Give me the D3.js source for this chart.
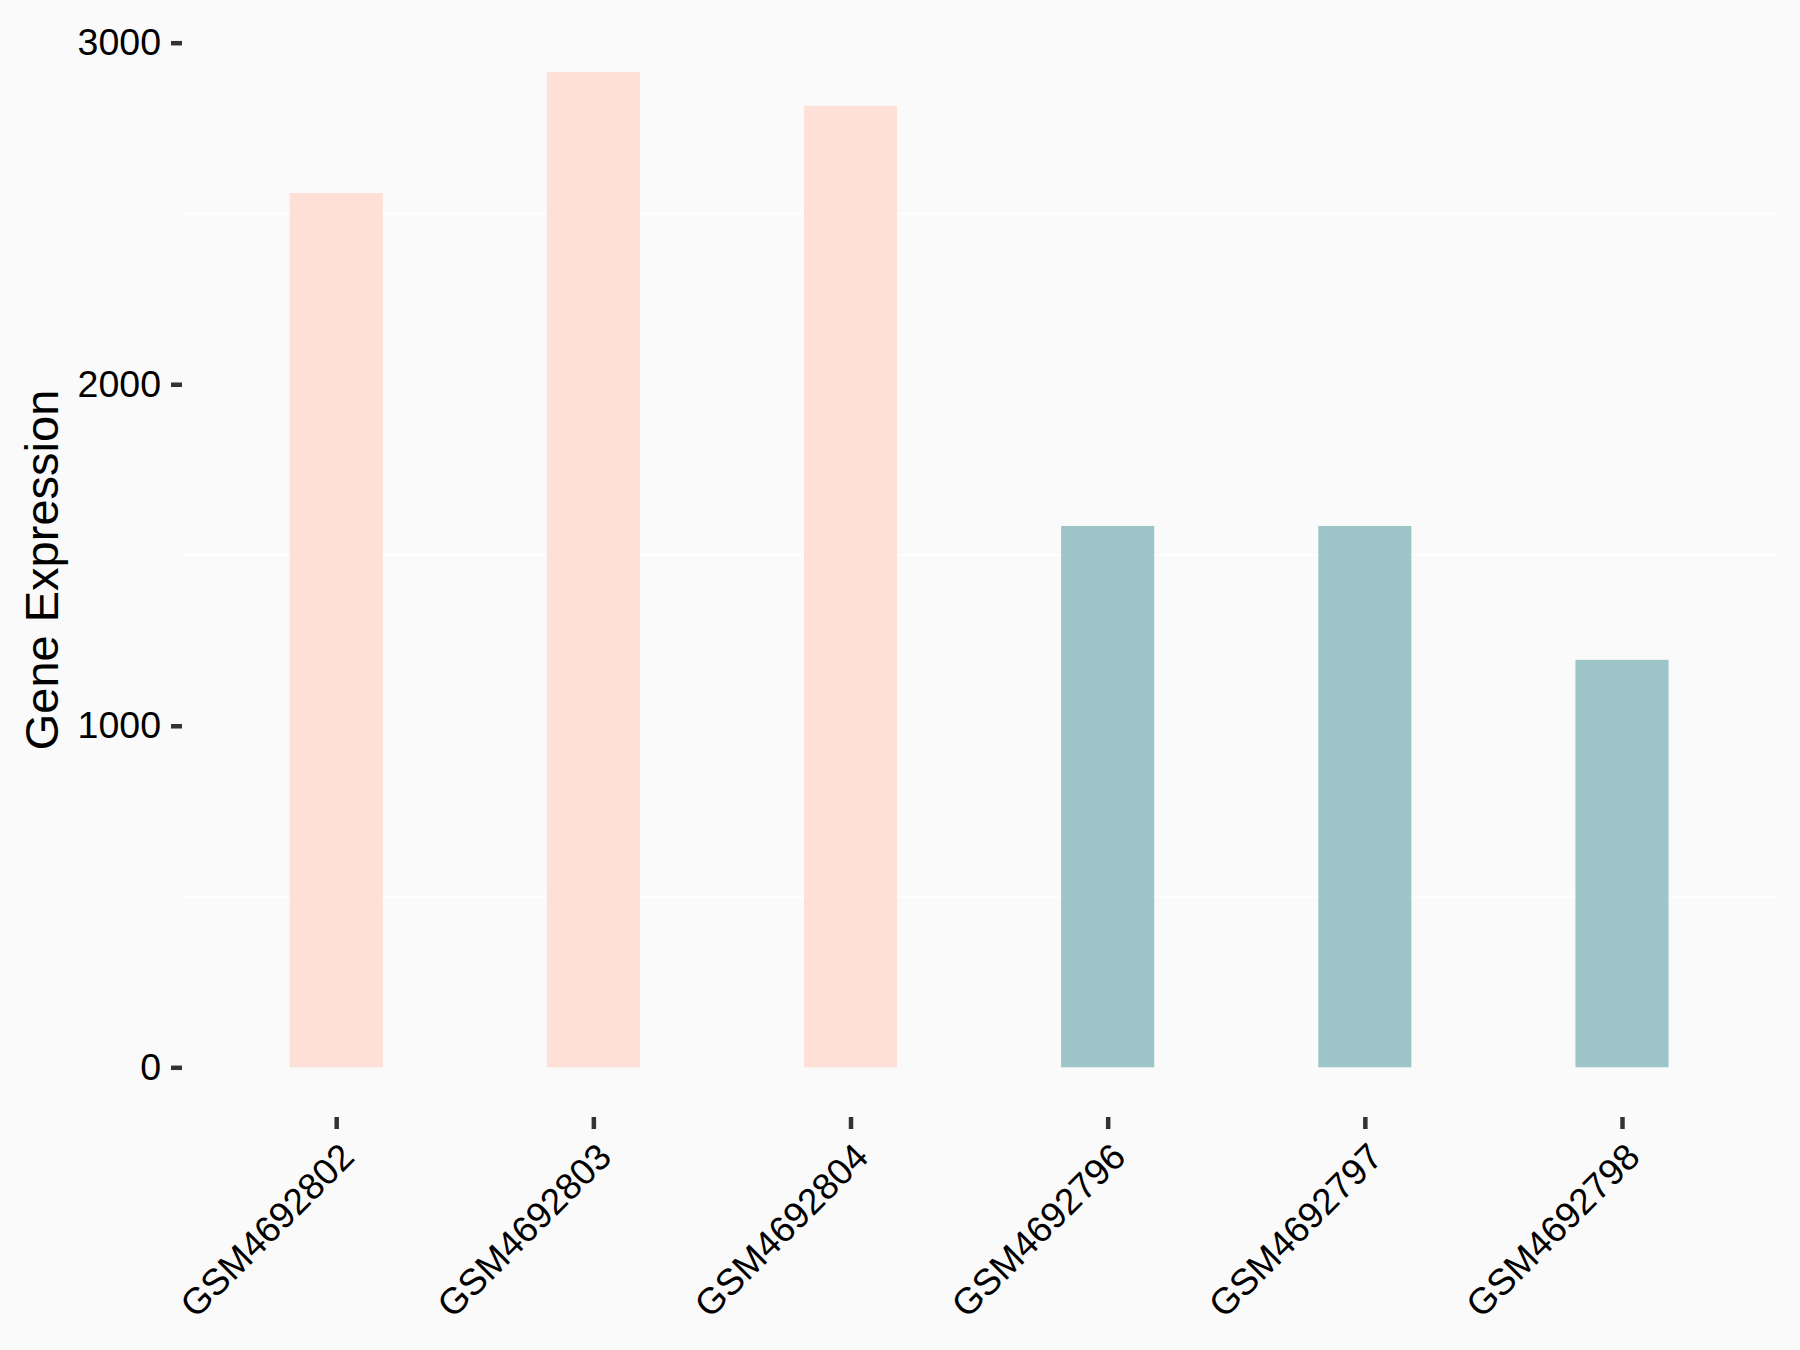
<!DOCTYPE html>
<html>
<head>
<meta charset="utf-8">
<script src="https://cdn.jsdelivr.net/npm/d3@7"></script>
<style>
  html, body { margin: 0; padding: 0; background: #fafafa; }
  svg text { font-family: "Liberation Sans", Arial, sans-serif; fill: #000; }
</style>
</head>
<body>
<div id="chart"></div>
<script>
// sample names, in plotting order
const samples = ["GSM4692802", "GSM4692803", "GSM4692804", "GSM4692796", "GSM4692797", "GSM4692798"];
// expression value for each sample
const expression = [2560, 2914, 2815, 1585, 1585, 1193];
// group of each sample (sets the bar colour)
const groups = ["A", "A", "A", "B", "B", "B"];
const groupNames = ["A", "B"];
const groupColors = ["#fee0d6", "#9dc4c7"];
const yTicks = [0, 1000, 2000, 3000];
const yMinorTicks = [500, 1500, 2500];

const width = 1800, height = 1350;
const panel = {left: 182, right: 1777, top: 23, bottom: 1117};

const svg = d3.select("#chart").append("svg")
    .attr("width", width)
    .attr("height", height);

svg.append("rect")
    .attr("width", width)
    .attr("height", height)
    .attr("fill", "#fafafa");

const data = samples.map((s, i) => ({sample: s, value: expression[i], group: groups[i]}));

const xScale = d3.scalePoint()
    .domain(samples)
    .range([336.2, 1622]);

const yScale = d3.scaleLinear()
    .domain([0, 3000])
    .range([1067.3, 42.7]);

const colorScale = d3.scaleOrdinal()
    .domain(groupNames)
    .range(groupColors);

const barWidth = xScale.step() * 0.362;

// minor grid lines (white, only visible ones)
svg.append("g")
  .selectAll("line")
    .data(yMinorTicks)
  .join("line")
    .attr("x1", panel.left)
    .attr("x2", panel.right)
    .attr("y1", d => yScale(d))
    .attr("y2", d => yScale(d))
    .attr("stroke", "#ffffff")
    .attr("stroke-width", 2);

// bars
svg.append("g")
  .selectAll("rect")
    .data(data)
  .join("rect")
    .attr("x", d => xScale(d.sample) - barWidth / 2)
    .attr("y", d => yScale(d.value))
    .attr("width", barWidth)
    .attr("height", d => yScale(0) - yScale(d.value))
    .attr("fill", d => colorScale(d.group));

// y axis
const yAxis = d3.axisLeft(yScale)
    .tickValues(yTicks)
    .tickSize(11)
    .tickPadding(10)
    .tickFormat(d3.format("d"));

const yAxisG = svg.append("g")
    .attr("transform", `translate(${panel.left},0)`)
    .call(yAxis);
yAxisG.select(".domain").remove();
yAxisG.selectAll(".tick line").attr("stroke", "#333").attr("stroke-width", 4.5);
yAxisG.selectAll(".tick text")
    .style("font-size", "37.5px")
    .attr("fill", "#000");

// x axis
const xAxis = d3.axisBottom(xScale)
    .tickSize(12)
    .tickFormat("");

const xAxisG = svg.append("g")
    .attr("transform", `translate(0,${panel.bottom})`)
    .call(xAxis);
xAxisG.select(".domain").remove();
xAxisG.selectAll(".tick line").attr("stroke", "#333").attr("stroke-width", 4.5);

svg.append("g")
  .selectAll("text")
    .data(samples)
  .join("text")
    .attr("transform", d => `translate(${xScale(d) + 20},${panel.bottom + 42}) rotate(-45)`)
    .attr("text-anchor", "end")
    .style("font-size", "36.8px")
    .text(d => d);

// y axis title
svg.append("text")
    .attr("transform", `translate(58,${(panel.top + panel.bottom) / 2}) rotate(-90)`)
    .attr("text-anchor", "middle")
    .style("font-size", "47px")
    .text("Gene Expression");
</script>
</body>
</html>
